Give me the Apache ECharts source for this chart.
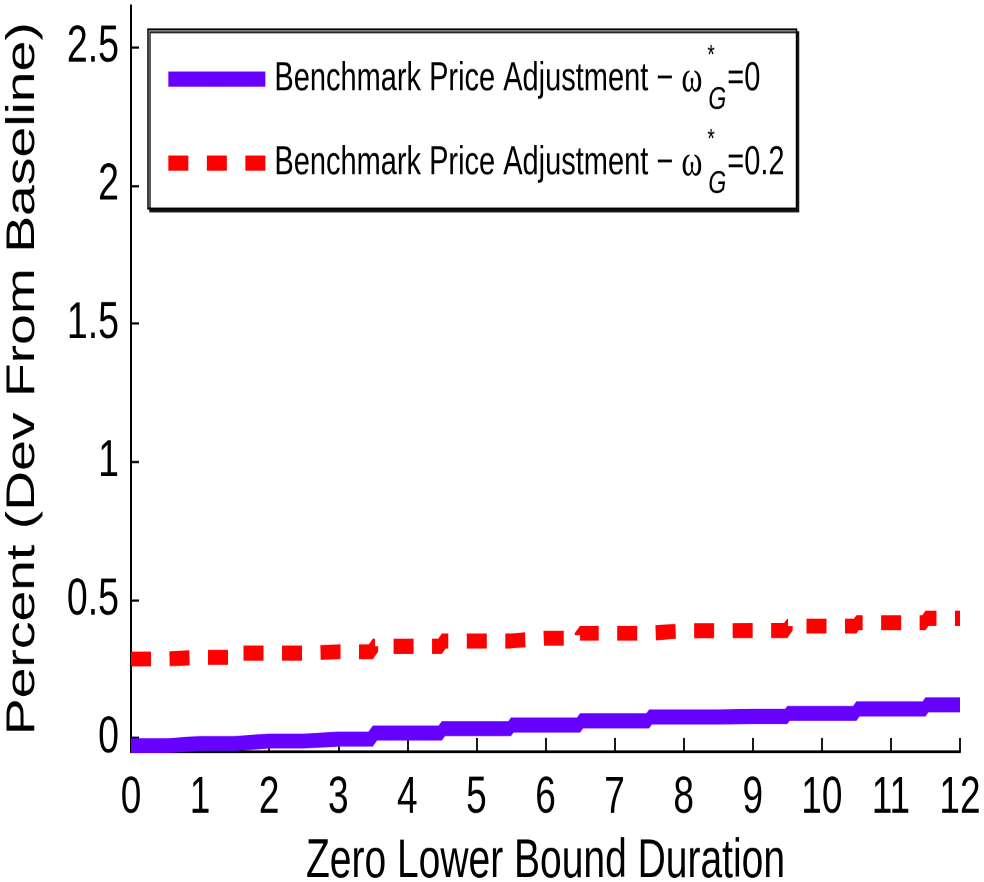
<!DOCTYPE html>
<html><head><meta charset="utf-8">
<script src="https://cdn.jsdelivr.net/npm/echarts@6/dist/echarts.min.js"></script>
<style>
html,body{margin:0;padding:0;background:#fff;overflow:hidden;width:984px;height:882px}
#chart{width:984px;height:630px;transform:scaleY(1.4);transform-origin:0 0}
</style></head><body><div id="chart"></div>
<script>
// Data
const xValues = [0, 1, 2, 3, 4, 5, 6, 7, 8, 9, 10, 11, 12];
const seriesNames = ['Benchmark Price Adjustment − ω*G=0', 'Benchmark Price Adjustment − ω*G=0.2'];
const legendSuffix = ['=0', '=0.2'];
const omegaZero = [-0.028, -0.020, -0.011, -0.004, 0.018, 0.034, 0.047, 0.062, 0.076, 0.078, 0.089, 0.105, 0.120];
const omegaPointTwo = [0.286, 0.292, 0.307, 0.312, 0.332, 0.351, 0.361, 0.379, 0.388, 0.389, 0.405, 0.417, 0.433];
const yTicks = [0, 0.5, 1, 1.5, 2, 2.5];
const xTitle = 'Zero Lower Bound Duration';
const yTitle = 'Percent (Dev From Baseline)';

const FONT = "'Liberation Sans', Arial, Helvetica, sans-serif";
const chart = echarts.init(document.getElementById('chart'), null, { devicePixelRatio: 2 });

const toPairs = vals => xValues.map((x, i) => [x, vals[i]]);

chart.setOption({
  animation: false,
  backgroundColor: '#fff',
  grid: { left: 131, right: 24, top: 4, bottom: 93, containLabel: false, outerBoundsMode: 'none' },
  xAxis: {
    type: 'value', min: 0, max: 12, interval: 1,
    name: xTitle, nameLocation: 'middle', nameGap: 59,
    nameTextStyle: { fontFamily: FONT, fontSize: 39, color: '#000' },
    axisLine: { onZero: false, lineStyle: { color: '#000', width: 2 } },
    axisTick: { inside: true, length: 10, lineStyle: { color: '#000', width: 1.8 } },
    axisLabel: { fontFamily: FONT, fontSize: 37, color: '#000', margin: 15 },
    splitLine: { show: false }
  },
  yAxis: {
    type: 'value', min: -0.05, max: 2.65,
    name: yTitle, nameLocation: 'middle', nameGap: 88,
    nameTextStyle: { fontFamily: FONT, fontSize: 39.5, color: '#000' },
    axisLine: { show: true, lineStyle: { color: '#000', width: 2 } },
    axisTick: { show: true, inside: true, length: 8, customValues: yTicks, lineStyle: { color: '#000', width: 1.6 } },
    axisLabel: { fontFamily: FONT, fontSize: 37.5, color: '#000', margin: 12, customValues: yTicks,
      formatter: v => String(v) },
    splitLine: { show: false }
  },
  legend: {
    orient: 'vertical', left: 148, top: 21,
    padding: [10, 12, 6, 15],
    itemWidth: 97, itemHeight: 11, itemGap: 8,
    selectedMode: false,
    backgroundColor: '#fff',
    borderColor: '#000', borderWidth: 1.5, borderRadius: 0,
    shadowColor: 'rgba(0,0,0,0.85)', shadowBlur: 0, shadowOffsetX: 2, shadowOffsetY: 2,
    lineStyle: { width: 10.7 },
    formatter: name => {
      const i = seriesNames.indexOf(name);
      return '{t|Benchmark Price Adjustment − }{w|ω}{s|*}{g|G}{t|' + legendSuffix[i] + '}';
    },
    textStyle: {
      fontFamily: FONT, fontSize: 29, color: '#000', padding: [0, 0, 0, 4],
      rich: {
        t: { fontFamily: FONT, fontSize: 29, color: '#000' },
        w: { fontFamily: "'Liberation Serif', 'Times New Roman', serif", fontSize: 32, color: '#000' },
        s: { fontFamily: FONT, fontSize: 19, color: '#000', width: 1, padding: [0, 0, 32, 5] },
        g: { fontFamily: FONT, fontSize: 23, fontStyle: 'italic', color: '#000', padding: [30, 1, 0, 0] }
      }
    },
    data: seriesNames
  },
  series: [
    {
      name: seriesNames[0], type: 'line', step: 'middle', symbol: 'none',
      data: toPairs(omegaZero),
      lineStyle: { color: '#6600ff', width: 10.7, type: 'solid', cap: 'butt' },
      itemStyle: { color: '#6600ff' }
    },
    {
      name: seriesNames[1], type: 'line', step: 'middle', symbol: 'none',
      data: toPairs(omegaPointTwo),
      lineStyle: { color: '#ff0000', width: 10.7, type: [20, 18.5], cap: 'butt' },
      itemStyle: { color: '#ff0000' }
    }
  ]
});
</script></body></html>
